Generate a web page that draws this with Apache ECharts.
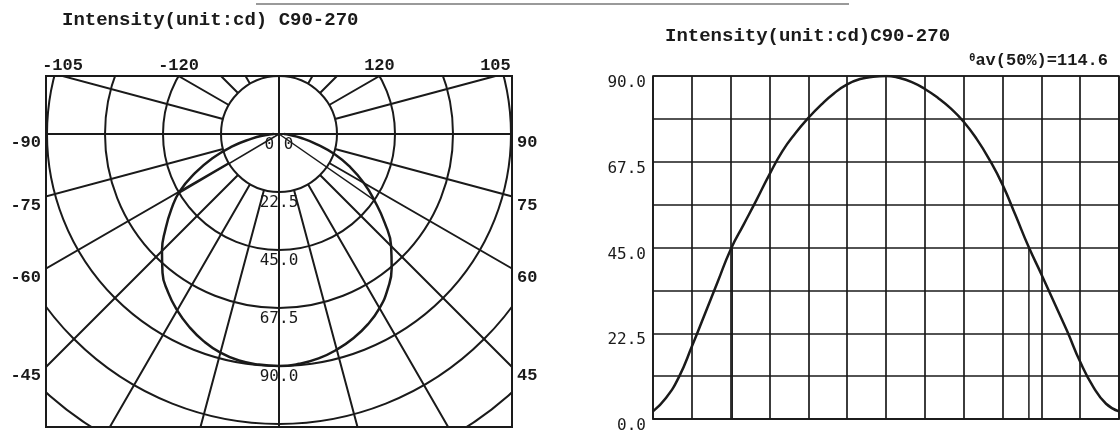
<!DOCTYPE html>
<html>
<head>
    <meta charset="utf-8" />
    <title>Intensity(unit:cd) C90-270</title>
    <script src="https://cdn.jsdelivr.net/npm/echarts@6/dist/echarts.min.js"></script>
    <style>
        html, body { margin: 0; padding: 0; background: #fff; }
        #main { width: 1120px; height: 434px; }
    </style>
</head>
<body>
    <div id="main"></div>
    <script type="text/javascript">
        // gamma angles (deg) and intensity (cd)
        var angles = [-90, -85, -80, -75, -70, -65, -60, -55, -50, -45, -40, -35, -30, -25, -20, -15, -10, -5,
            0, 5, 10, 15, 20, 25, 30, 35, 40, 45, 50, 55, 60, 65, 70, 75, 80, 85, 90];
        var intensity = [2, 5.5, 11, 19, 27.5, 36, 44.5, 51, 57.5, 64.2, 70.3, 75, 79, 82.5, 85.5, 87.8, 89.2, 89.8,
            90, 89.5, 88.4, 86.6, 84.3, 81.5, 78, 73.5, 68, 61.5, 53.5, 45.3, 38, 30.5, 23, 15, 8.5, 4, 2];
        // 50% points (theta av = 114.6)
        var halfAngles = [-59.4, 55.2];
        var halfValue = 45;
        var radialLabels = [0, 22.5, 45, 67.5, 90];
        var frameAngleLabels = [-45, -60, -75, -90, -105, -120, 120, 105, 90, 75, 60, 45];

        var INK = '#1a1a1a';
        var CX = 279, CY = 134, RING = 58;
        var FR = { x: 46, y: 76, w: 466, h: 351 };

        function toPolarAngle(a) { return a < 0 ? a + 360 : a; }

        var curveLine = [], curvePolar = [];
        for (var i = 0; i < angles.length; i++) {
            curveLine.push([angles[i], intensity[i]]);
            curvePolar.push([intensity[i], toPolarAngle(angles[i])]);
        }

        var halfSeriesLine = [], halfSeriesPolar = [];
        halfAngles.forEach(function (a) {
            halfSeriesLine.push({
                type: 'line', xAxisIndex: 0, yAxisIndex: 0, z: 16,
                data: [[a, 0], [a, halfValue]], symbol: 'none',
                lineStyle: { color: INK, width: 1.5 }, silent: true
            });
            halfSeriesPolar.push({
                type: 'line', coordinateSystem: 'polar', polarIndex: 0,
                data: [[0, toPolarAngle(a)], [halfValue, toPolarAngle(a)]], symbol: 'none',
                lineStyle: { color: INK, width: 1.5 }, silent: true
            });
        });

        // angle labels sit where each spoke leaves the frame
        function frameLabel(theta) {
            var r = theta * Math.PI / 180;
            var dx = Math.sin(r), dy = Math.cos(r);
            var best = Infinity, side = '';
            if (dx < -1e-9) { var t = (FR.x - CX) / dx; if (t < best) { best = t; side = 'left'; } }
            if (dx > 1e-9) { var t2 = (FR.x + FR.w - CX) / dx; if (t2 < best) { best = t2; side = 'right'; } }
            if (dy < -1e-9) { var t3 = (FR.y - CY) / dy; if (t3 < best) { best = t3; side = 'top'; } }
            var px = CX + dx * best, py = CY + dy * best;
            var st = { text: String(theta), fill: INK, fontSize: 17, fontWeight: 'bold', fontFamily: '"Liberation Mono", monospace', verticalAlign: 'middle' };
            if (side === 'left') { st.x = FR.x - 5; st.y = py + 9; st.align = 'right'; }
            else if (side === 'right') { st.x = FR.x + FR.w + 5; st.y = py + 9; st.align = 'left'; }
            else { st.x = px; st.y = FR.y - 10; st.align = 'center'; }
            return { type: 'text', z: 12, style: st, silent: true };
        }

        var white = { fill: '#fff' };
        var graphics = [
            { type: 'rect', z: 10, shape: { x: 0, y: 0, width: FR.x - 1, height: 434 }, style: white, silent: true },
            { type: 'rect', z: 10, shape: { x: 0, y: 0, width: 652, height: FR.y - 1 }, style: white, silent: true },
            { type: 'rect', z: 10, shape: { x: FR.x + FR.w + 1, y: 0, width: 652 - (FR.x + FR.w + 1), height: 434 }, style: white, silent: true },
            { type: 'rect', z: 10, shape: { x: 0, y: FR.y + FR.h + 1, width: 652, height: 20 }, style: white, silent: true },
            { type: 'rect', z: 11, shape: { x: FR.x, y: FR.y, width: FR.w, height: FR.h }, style: { fill: 'none', stroke: INK, lineWidth: 2 }, silent: true },
            { type: 'line', z: 11, shape: { x1: 256, y1: 4, x2: 849, y2: 4 }, style: { stroke: '#9a9a9a', lineWidth: 2 }, silent: true }
        ];
        frameAngleLabels.forEach(function (a) { graphics.push(frameLabel(a)); });

        var polarLine = { color: INK, width: 2 };
        var gridLine = { color: INK, width: 1.7 };
        var mono = '"DejaVu Sans Mono", monospace';
        var monoBold = '"Liberation Mono", monospace';

        var option = {
            animation: false,
            title: [
                {
                    text: 'Intensity(unit:cd) C90-270', left: 62, top: 10, padding: 0, z: 20,
                    textStyle: { fontFamily: monoBold, fontWeight: 'bold', fontSize: 19, lineHeight: 20, color: INK }
                },
                {
                    text: 'Intensity(unit:cd)C90-270', left: 665, top: 26, padding: 0, z: 20,
                    textStyle: { fontFamily: monoBold, fontWeight: 'bold', fontSize: 19, lineHeight: 20, color: INK }
                },
                {
                    text: '{t|θ}{b|av(50%)=114.6}', right: 12, top: 52, padding: 0, z: 20,
                    textStyle: {
                        rich: {
                            t: { fontFamily: mono, fontSize: 10, color: INK, padding: [0, 0, 6, 0] },
                            b: { fontFamily: monoBold, fontWeight: 'bold', fontSize: 17, lineHeight: 18, color: INK }
                        }
                    }
                }
            ],
            polar: [
                { center: [CX, CY], radius: [0, RING * 6] },
                { center: [CX, CY], radius: [RING, 372] }
            ],
            angleAxis: [
                {
                    polarIndex: 0, type: 'value', min: 0, max: 360, interval: 90, startAngle: -90, clockwise: false, z: 1,
                    axisLine: { show: false }, axisTick: { show: false }, axisLabel: { show: false },
                    splitLine: { show: true, lineStyle: polarLine }
                },
                {
                    polarIndex: 1, type: 'value', min: 0, max: 360, interval: 15, startAngle: -90, clockwise: false, z: 1,
                    axisLine: { show: false }, axisTick: { show: false }, axisLabel: { show: false },
                    splitLine: { show: true, lineStyle: polarLine }
                }
            ],
            radiusAxis: [
                {
                    polarIndex: 0, type: 'value', min: 0, max: 135, interval: 22.5, z: 1,
                    axisLine: { show: false }, axisTick: { show: false },
                    splitLine: { show: true, lineStyle: polarLine },
                    axisLabel: {
                        show: true, showMinLabel: true, margin: 0, rotate: 0,
                        align: 'center', verticalAlign: 'top', padding: [3, 0, 0, 0],
                        fontFamily: mono, fontSize: 16, color: INK,
                        formatter: function (v) { return radialLabels.indexOf(v) >= 0 ? v.toFixed(1) : ''; }
                    }
                },
                {
                    polarIndex: 1, type: 'value', min: 0, max: 1, show: false
                }
            ],
            grid: {
                left: 653, top: FR.y, width: 466, height: FR.h,
                show: true, borderColor: INK, borderWidth: 1.7, z: 15
            },
            xAxis: {
                type: 'value', min: -90, max: 90, interval: 15, z: 15,
                axisLine: { lineStyle: gridLine }, axisTick: { show: false }, axisLabel: { show: false },
                splitLine: { show: true, lineStyle: gridLine }
            },
            yAxis: {
                type: 'value', min: 0, max: 90, interval: 11.25, z: 15,
                axisLine: { show: false }, axisTick: { show: false },
                splitLine: { show: true, lineStyle: gridLine },
                axisLabel: {
                    margin: 7, verticalAlign: 'top', lineHeight: 14,
                    fontFamily: mono, fontSize: 16, color: INK,
                    formatter: function (v) { return radialLabels.indexOf(v) >= 0 ? v.toFixed(1) : ''; }
                }
            },
            graphic: { elements: graphics },
            series: [
                {
                    type: 'line', coordinateSystem: 'polar', polarIndex: 0, data: curvePolar,
                    symbol: 'none', smooth: 0.5, lineStyle: { color: INK, width: 2.5 }, silent: true
                },
                {
                    type: 'line', xAxisIndex: 0, yAxisIndex: 0, data: curveLine, z: 16,
                    symbol: 'none', smooth: 0.5, lineStyle: { color: INK, width: 2.5 }, silent: true
                }
            ].concat(halfSeriesLine, halfSeriesPolar)
        };

        var myChart = echarts.init(document.getElementById('main'));
        myChart.setOption(option);
    </script>
</body>
</html>
